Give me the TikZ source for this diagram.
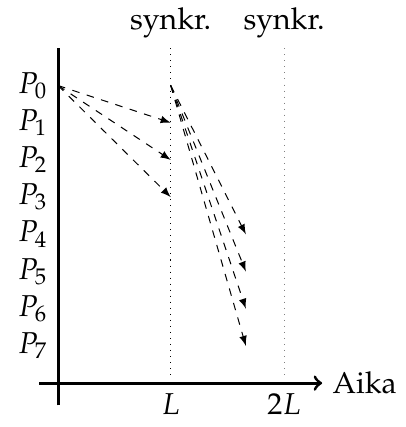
\documentclass[12pt,tikz,border=0pt]{standalone}
\usepackage[T1]{fontenc}
\usepackage{mathpazo}
\usepackage{amsmath}

\begin{document}
\begin{tikzpicture}[>=latex, scale=0.52]
    \useasboundingbox (-1.56,-1.18) rectangle (9.35,10.3);
    % axes
    \coordinate (ybot) at (0,-0.6);
    \coordinate (ytop) at (0,9);
    \coordinate (xleft) at (-0.5,0);
    \coordinate (xright) at (7.1,0);
    \draw[very thick] (ybot) -- (ytop);
    \draw[very thick, -to] (xleft) -- (xright);
    \node[right] (aika) at (xright) {Aika};
    \node[below] (l1) at (3.03,0) {$L$};
    \node[below] (l2) at (6.08,0) {$2L$};
    % synchronisation lines
    \node[above] (s1) at (3.03,9) {synkr.};
    \node[above] (s2) at (6.08,9) {synkr.};
    \coordinate (d1) at (3.03,0.2);
    \coordinate (d2) at (6.08,0.2);
    \draw[dotted] (s1.south) -- (d1);
    \draw[dotted, gray] (s2.south) -- (d2);
    % processors
    \node[left] (p0) at (0,8) {$P_0$};
    \node[left] (p1) at (0,7) {$P_1$};
    \node[left] (p2) at (0,6) {$P_2$};
    \node[left] (p3) at (0,5) {$P_3$};
    \node[left] (p4) at (0,4) {$P_4$};
    \node[left] (p5) at (0,3) {$P_5$};
    \node[left] (p6) at (0,2) {$P_6$};
    \node[left] (p7) at (0,1) {$P_7$};
    % messages
    \coordinate (a0) at (0,8);
    \coordinate (b0) at (3.03,8);
    \coordinate (b1) at (3.03,7);
    \coordinate (b2) at (3.03,6);
    \coordinate (b3) at (3.03,5);
    \coordinate (c4) at (5.05,4);
    \coordinate (c5) at (5.05,3);
    \coordinate (c6) at (5.05,2);
    \coordinate (c7) at (5.05,1);
    \draw[dashed, ->] (a0) -- (b1);
    \draw[dashed, ->] (a0) -- (b2);
    \draw[dashed, ->] (a0) -- (b3);
    \draw[dashed, ->] (b0) -- (c4);
    \draw[dashed, ->] (b0) -- (c5);
    \draw[dashed, ->] (b0) -- (c6);
    \draw[dashed, ->] (b0) -- (c7);
\end{tikzpicture}
\end{document}
